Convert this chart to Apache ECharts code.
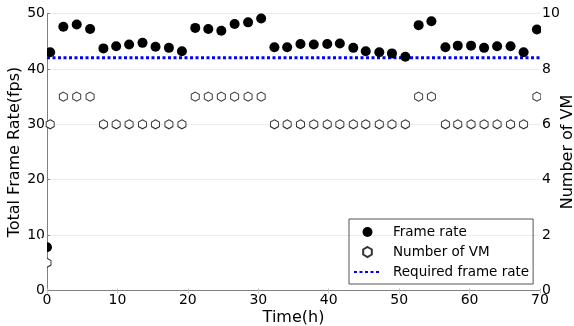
<!DOCTYPE html>
<html>
<head>
<meta charset="utf-8">
<script src="https://cdn.jsdelivr.net/npm/echarts@6/dist/echarts.min.js"></script>
<style>
  html, body { margin: 0; padding: 0; background: #fff; }
  #chart { width: 574px; height: 326px; }
</style>
</head>
<body>
<div id="chart"></div>
<script>
// sample times (h)
const times = [0, 0.45, 2.32, 4.22, 6.12, 8.01, 9.82, 11.66, 13.56, 15.41, 17.31, 19.16,
  21.05, 22.9, 24.75, 26.64, 28.55, 30.41, 32.29, 34.1, 35.99, 37.88, 39.79, 41.58,
  43.49, 45.26, 47.18, 48.98, 50.88, 52.77, 54.58, 56.57, 58.32, 60.21, 62.06, 63.91,
  65.82, 67.67, 69.56];
const frameRate = [7.8, 43.0, 47.6, 48.0, 47.2, 43.7, 44.1, 44.4, 44.7, 44.0, 43.8, 43.2,
  47.4, 47.2, 46.9, 48.1, 48.4, 49.1, 43.9, 43.9, 44.5, 44.4, 44.5, 44.6,
  43.8, 43.2, 43.0, 42.8, 42.2, 47.9, 48.6, 43.9, 44.2, 44.2, 43.8, 44.1,
  44.1, 43.0, 47.1];
const vmCount = [1, 6, 7, 7, 7, 6, 6, 6, 6, 6, 6, 6,
  7, 7, 7, 7, 7, 7, 6, 6, 6, 6, 6, 6,
  6, 6, 6, 6, 6, 7, 7, 6, 6, 6, 6, 6,
  6, 6, 7];
const requiredRate = 42;
const requiredX = [0, 70];

const FONT = 'DejaVu Sans';
const hexagon = 'path://M0,-1 L0.866,-0.5 L0.866,0.5 L0,1 L-0.866,0.5 L-0.866,-0.5 Z';

const chart = echarts.init(document.getElementById('chart'), null, {renderer: 'canvas'});

chart.setOption({
  animation: false,
  textStyle: {fontFamily: FONT},
  grid: {left: 47, right: 34, top: 13.5, bottom: 35.5, containLabel: false, outerBoundsMode: 'none'},
  xAxis: [
    {
      type: 'value', min: 0, max: 70, interval: 10,
      name: 'Time(h)', nameLocation: 'middle', nameGap: 19, nameMoveOverlap: false,
      nameTextStyle: {fontFamily: FONT, fontSize: 16, color: '#000'},
      axisLine: {lineStyle: {color: '#808080'}},
      axisTick: {inside: true, length: 2, lineStyle: {color: '#bbb'}},
      axisLabel: {fontFamily: FONT, fontSize: 14, color: '#000', margin: 3},
      splitLine: {show: false}
    },
    {
      type: 'value', position: 'top', min: 0, max: 70, interval: 10,
      axisLine: {show: false},
      axisTick: {inside: true, length: 3, lineStyle: {color: '#ccc'}},
      axisLabel: {show: false},
      splitLine: {show: false}
    }
  ],
  yAxis: [
    {
      type: 'value', min: 0, max: 50, interval: 10,
      name: 'Total Frame Rate(fps)', nameLocation: 'middle', nameGap: 24, nameRotate: 90,
      nameMoveOverlap: false,
      nameTextStyle: {fontFamily: FONT, fontSize: 16, color: '#000'},
      axisLine: {show: true, lineStyle: {color: '#808080'}},
      axisTick: {show: false},
      axisLabel: {fontFamily: FONT, fontSize: 14, color: '#000', margin: 2},
      splitLine: {lineStyle: {color: '#ebebeb'}}
    },
    {
      type: 'value', min: 0, max: 10, interval: 2, position: 'right',
      name: 'Number of VM', nameLocation: 'middle', nameGap: 20, nameRotate: 90,
      nameMoveOverlap: false,
      nameTextStyle: {fontFamily: FONT, fontSize: 16, color: '#000'},
      axisLine: {show: true, lineStyle: {color: '#808080'}},
      axisTick: {show: true, length: 3, lineStyle: {color: '#808080'}},
      axisLabel: {fontFamily: FONT, fontSize: 14, color: '#000', margin: 2},
      splitLine: {show: false}
    }
  ],
  legend: {
    orient: 'vertical',
    left: 349, top: 219,
    padding: [3, 4, 2, 4],
    itemGap: 0,
    itemWidth: 27, itemHeight: 10,
    borderColor: '#555', borderWidth: 1, borderRadius: 0,
    textStyle: {fontFamily: FONT, fontSize: 13.5, color: '#000', lineHeight: 20, padding: [0, 0, 0, 7]},
    data: [
      {name: 'Frame rate', icon: 'circle'},
      {name: 'Number of VM', icon: hexagon},
      {name: 'Required frame rate', itemStyle: {opacity: 0}}
    ]
  },
  series: [
    {
      name: 'Required frame rate', type: 'line',
      data: requiredX.map(x => [x, requiredRate]),
      symbol: 'none', z: 1,
      lineStyle: {color: '#0000ff', width: 3, type: [3, 2.5]},
      itemStyle: {color: '#0000ff'}
    },
    {
      name: 'Number of VM', type: 'scatter', yAxisIndex: 1,
      data: times.map((t, i) => [t, vmCount[i]]),
      symbol: hexagon, symbolSize: [8, 9], z: 2,
      itemStyle: {color: '#fff', borderColor: '#333', borderWidth: 1, opacity: 1}
    },
    {
      name: 'Frame rate', type: 'scatter',
      data: times.map((t, i) => [t, frameRate[i]]),
      symbol: 'circle', symbolSize: 10, z: 3,
      itemStyle: {color: '#000', opacity: 1}
    }
  ],
  // white masks so markers sitting on the frame look clipped
  graphic: [
    {type: 'rect', z: 100, shape: {x: 40, y: 238, width: 7, height: 32}, style: {fill: '#fff'}},
    {type: 'rect', z: 100, shape: {x: 44, y: 46, width: 3, height: 14}, style: {fill: '#fff'}},
    {type: 'rect', z: 100, shape: {x: 541, y: 23, width: 6, height: 15}, style: {fill: '#fff'}},
    {type: 'rect', z: 100, shape: {x: 541, y: 91, width: 6, height: 12}, style: {fill: '#fff'}}
  ]
});
</script>
</body>
</html>
